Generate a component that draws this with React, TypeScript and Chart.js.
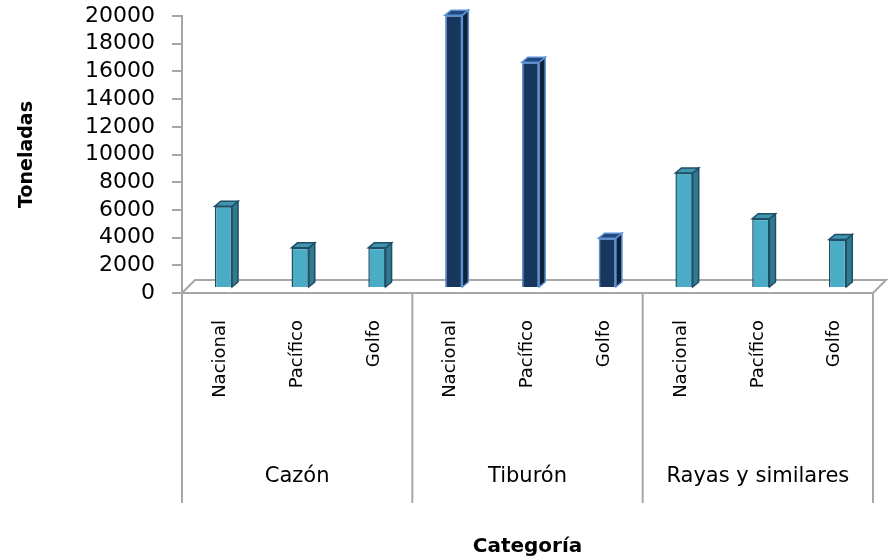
import React, { useEffect, useRef } from "react";
import { Chart, registerables } from "chart.js";

Chart.register(...registerables);

const subCategories = [
  "Nacional", "Pacífico", "Golfo",
  "Nacional", "Pacífico", "Golfo",
  "Nacional", "Pacífico", "Golfo",
];
const groups = ["Cazón", "Tiburón", "Rayas y similares"];
const toneladas = [5900, 2900, 2900, 19700, 16300, 3600, 8300, 5000, 3500];
const groupOfBar = [0, 0, 0, 1, 1, 1, 2, 2, 2];
const yMax = 20000;
const yStep = 2000;

const faceColors = ["#4BACC6", "#17375E", "#4BACC6"];
const sideColors = ["#2F7A8F", "#0E2238", "#2F7A8F"];
const topColors = ["#3E95AD", "#1F4A7A", "#3E95AD"];
const edgeColors = ["#1F4E66", "#5B8FD6", "#1F4E66"];

const AXIS_GRAY = "#A6A6A6";
const DEPTH_FLOOR = 13;
const BAR_DX = 6;
const BAR_DY = 5;

const floorPlugin = {
  id: "floor3d",
  beforeDatasetsDraw(chart: any) {
    const { ctx, chartArea } = chart;
    const { left, right, bottom } = chartArea;
    ctx.save();
    ctx.strokeStyle = AXIS_GRAY;
    ctx.lineWidth = 2;
    ctx.beginPath();
    ctx.moveTo(left, bottom);
    ctx.lineTo(left + DEPTH_FLOOR, bottom - DEPTH_FLOOR);
    ctx.lineTo(right + DEPTH_FLOOR, bottom - DEPTH_FLOOR);
    ctx.lineTo(right, bottom);
    ctx.lineTo(left, bottom);
    ctx.stroke();
    ctx.restore();
    ctx.save();
    ctx.translate(3, -5);
  },
  afterDatasetsDraw(chart: any) {
    const { ctx } = chart;
    const meta = chart.getDatasetMeta(0);
    meta.data.forEach((bar: any, i: number) => {
      const g = groupOfBar[i];
      const { x, y, base, width } = bar.getProps(["x", "y", "base", "width"], true);
      const l = x - width / 2;
      const r = x + width / 2;
      ctx.lineWidth = 1.5;
      ctx.strokeStyle = edgeColors[g];
      ctx.beginPath();
      ctx.moveTo(r, y);
      ctx.lineTo(r + BAR_DX, y - BAR_DY);
      ctx.lineTo(r + BAR_DX, base - BAR_DY);
      ctx.lineTo(r, base);
      ctx.closePath();
      ctx.fillStyle = sideColors[g];
      ctx.fill();
      ctx.stroke();
      ctx.beginPath();
      ctx.moveTo(l, y);
      ctx.lineTo(l + BAR_DX, y - BAR_DY);
      ctx.lineTo(r + BAR_DX, y - BAR_DY);
      ctx.lineTo(r, y);
      ctx.closePath();
      ctx.fillStyle = topColors[g];
      ctx.fill();
      ctx.stroke();
    });
    ctx.restore();
  },
};

const separatorPlugin = {
  id: "groupSeparators",
  afterDraw(chart: any) {
    const { ctx, chartArea, scales } = chart;
    const xs = scales.x;
    const n = subCategories.length;
    const step = xs.getPixelForValue(1) - xs.getPixelForValue(0);
    const xsList: number[] = [chartArea.left];
    for (let i = 1; i < n; i++) {
      if (groupOfBar[i] !== groupOfBar[i - 1]) {
        xsList.push(xs.getPixelForValue(i) - step / 2);
      }
    }
    xsList.push(chartArea.right);
    ctx.save();
    ctx.strokeStyle = AXIS_GRAY;
    ctx.lineWidth = 2;
    xsList.forEach((px) => {
      ctx.beginPath();
      ctx.moveTo(px, chartArea.bottom);
      ctx.lineTo(px, chartArea.bottom + 210);
      ctx.stroke();
    });
    ctx.restore();
  },
};

export default function App() {
  const canvasRef = useRef<HTMLCanvasElement | null>(null);

  useEffect(() => {
    document.body.style.margin = "0";
    const canvas = canvasRef.current;
    if (!canvas) return;
    const chart = new Chart(canvas, {
      type: "bar",
      data: {
        labels: subCategories,
        datasets: [
          {
            label: "Toneladas",
            data: toneladas,
            backgroundColor: groupOfBar.map((g) => faceColors[g]),
            borderColor: groupOfBar.map((g) => edgeColors[g]),
            borderWidth: 1.5,
            barPercentage: 0.9,
            categoryPercentage: 0.25,
          },
        ],
      },
      options: {
        responsive: false,
        animation: false,
        layout: { padding: { left: 0, right: 16, top: 16, bottom: 0 } },
        plugins: {
          legend: { display: false },
          tooltip: { enabled: false },
        },
        scales: {
          y: {
            min: 0,
            max: yMax,
            ticks: {
              stepSize: yStep,
              autoSkip: false,
              color: "#000",
              padding: 17,
              font: { family: "DejaVu Sans", size: 22 },
              callback: (v: any) => String(v),
            },
            grid: {
              drawOnChartArea: false,
              drawTicks: true,
              tickLength: 10,
              color: AXIS_GRAY,
              lineWidth: 2,
            },
            border: { display: true, color: AXIS_GRAY, width: 2 },
            title: {
              display: true,
              text: "Toneladas",
              color: "#000",
              font: { family: "DejaVu Sans", size: 19, weight: "bold" },
              padding: { top: 16, bottom: 0 },
            },
            afterFit: (s: any) => {
              s.width = 182;
              s.paddingTop = 0;
              s.paddingBottom = 0;
            },
          },
          x: {
            type: "category",
            weight: 0,
            grid: { display: false, drawTicks: false },
            border: { display: false },
            ticks: {
              autoSkip: false,
              maxRotation: 90,
              minRotation: 90,
              padding: 27,
              color: "#000",
              font: { family: "DejaVu Sans", size: 18 },
            },
            afterFit: (s: any) => {
              s.height = 130;
              s.paddingLeft = 0;
              s.paddingRight = 0;
            },
          },
          x2: {
            type: "category",
            labels: groups,
            position: "bottom",
            weight: 1,
            grid: { display: false, drawTicks: false },
            border: { display: false },
            ticks: {
              autoSkip: false,
              maxRotation: 0,
              minRotation: 0,
              padding: 41,
              color: "#000",
              font: { family: "DejaVu Sans", size: 21 },
            },
            title: {
              display: true,
              text: "Categoría",
              color: "#000",
              font: { family: "DejaVu Sans", size: 20, weight: "bold" },
              padding: { top: 0, bottom: 0 },
            },
            afterFit: (s: any) => {
              s.height = 136;
              s.paddingLeft = 0;
              s.paddingRight = 0;
            },
          },
        },
      },
      plugins: [floorPlugin, separatorPlugin],
    } as any);
    return () => chart.destroy();
  }, []);

  return (
    <div style={{ width: 889, height: 559 }}>
      <canvas ref={canvasRef} width={889} height={559} style={{ display: "block" }} />
    </div>
  );
}
